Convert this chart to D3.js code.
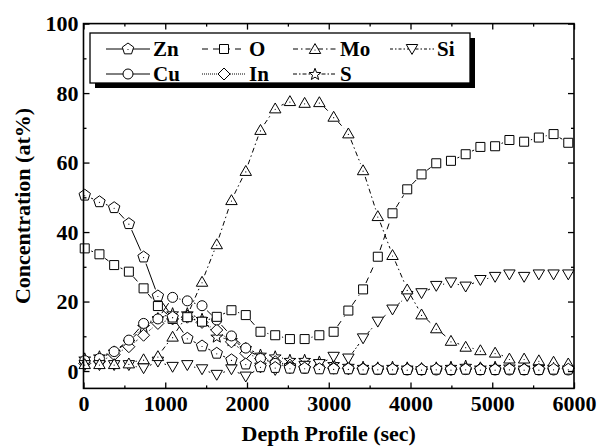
<!DOCTYPE html>
<html>
<head>
<meta charset="utf-8">
<title>Depth Profile</title>
<style>
body { margin: 0; background: #fff; }
svg text { font-family: "Liberation Serif", "Times New Roman", serif; font-weight: bold; }
</style>
<script src="https://d3js.org/d3.v7.min.js"></script>
</head>
<body>
<script>

// sputter time of each measurement (sec)
const times = [15, 195, 375, 555, 735, 910, 1090, 1270, 1450, 1630, 1810, 1985, 2165, 2345, 2525, 2705, 2885,
  3060, 3240, 3420, 3600, 3780, 3960, 4135, 4315, 4495, 4675, 4855, 5035, 5210, 5390, 5570, 5750, 5930];

const zn = [50.6, 48.7, 47.0, 42.4, 32.8, 21.6, 15.5, 9.4, 7.2, 5.1, 3.2, 2.0, 1.2, 1.0, 0.8, 0.8, 0.6,
  0.6, 0.6, 0.5, 0.5, 0.5, 0.4, 0.4, 0.5, 0.4, 0.5, 0.4, 0.4, 0.5, 0.4, 0.4, 0.5, 0.5];
const o = [35.3, 33.6, 30.5, 28.6, 23.8, 18.7, 15.0, 15.5, 14.2, 15.6, 17.5, 16.1, 11.3, 10.3, 9.2, 9.2, 10.3,
  11.3, 17.4, 23.5, 32.9, 45.4, 52.3, 56.6, 59.8, 60.5, 62.4, 64.5, 64.7, 66.5, 66.0, 67.2, 68.2, 65.7];
const mo = [2.0, 2.0, 2.0, 2.2, 3.4, 4.3, 9.9, 16.0, 25.7, 36.5, 49.2, 57.6, 69.4, 75.6, 77.7, 77.2, 77.4,
  73.2, 68.4, 57.8, 44.6, 33.4, 23.5, 16.3, 12.3, 8.7, 7.0, 6.0, 5.3, 3.6, 3.6, 3.1, 2.7, 2.2];
const si = [1.7, 1.7, 1.7, 1.7, 0.8, 2.7, 1.2, 1.7, 0.5, -1.1, 0.5, -1.6, 1.0, 0.3, 0.8, 1.5, 2.0,
  4.1, 3.6, 9.4, 14.2, 17.7, 21.6, 22.4, 24.5, 25.5, 24.3, 26.2, 27.1, 27.8, 27.1, 27.8, 27.8, 27.8];
const cu = [3.0, 3.6, 5.6, 8.9, 13.7, 15.0, 21.2, 20.2, 18.8, 14.7, 10.1, 6.6, 3.6, 2.2, 1.2, 0.8, 1.0,
  0.8, 0.6, 0.5, 0.4, 0.4, 0.3, 0.3, 0.3, 0.3, 0.4, 0.3, 0.3, 0.3, 0.3, 0.3, 0.3, 0.3];
const inn = [2.2, 2.7, 4.7, 7.0, 10.3, 13.7, 15.0, 15.5, 14.0, 11.8, 8.4, 5.1, 3.6, 2.7, 1.7, 1.2, 1.0,
  0.8, 0.7, 0.7, 0.6, 0.6, 0.6, 0.5, 0.6, 0.5, 0.6, 0.7, 0.6, 0.6, 0.6, 0.7, 0.6, 0.7];
const s = [3.6, 4.2, 5.6, 8.4, 12.7, 15.2, 16.6, 16.6, 15.0, 9.9, 8.9, 6.6, 4.7, 4.2, 3.2, 3.2, 2.7,
  2.0, 1.5, 1.2, 1.0, 1.2, 1.0, 0.8, 1.0, 1.2, 1.5, 1.0, 1.2, 1.3, 1.0, 1.2, 1.2, 1.0];

const xTicks = [0, 1000, 2000, 3000, 4000, 5000, 6000];
const yTicks = [0, 20, 40, 60, 80, 100];

// legend order: two rows of four / three
const series = [
  { name: "Zn", values: zn, shape: "pentagon", dash: null, col: 0, row: 0 },
  { name: "O", values: o, shape: "square", dash: "6,5", col: 1, row: 0 },
  { name: "Mo", values: mo, shape: "triangle", dash: "5,3,1.5,3", col: 2, row: 0 },
  { name: "Si", values: si, shape: "down", dash: "3,2,1.5,2", col: 3, row: 0 },
  { name: "Cu", values: cu, shape: "circle", dash: null, col: 0, row: 1 },
  { name: "In", values: inn, shape: "diamond", dash: "1,1", col: 1, row: 1 },
  { name: "S", values: s, shape: "star", dash: "4,2,1.5,2", col: 2, row: 1 }
];

const W = 597, H = 446;
const margin = { left: 83.5, right: 23, top: 23.6, bottom: 57.6 };

const svg = d3.select("body").append("svg")
  .attr("width", W).attr("height", H);

const x = d3.scaleLinear().domain([0, 6000]).range([margin.left, W - margin.right]);
const y = d3.scaleLinear().domain([-5, 100]).range([H - margin.bottom, margin.top]);

function polyPath(pts) {
  return "M" + pts.map(p => p[0].toFixed(2) + "," + p[1].toFixed(2)).join("L") + "Z";
}
function regular(n, r, rot) {
  let pts = [];
  for (let i = 0; i < n; i++) {
    let a = rot + i * 2 * Math.PI / n;
    pts.push([r * Math.sin(a), -r * Math.cos(a)]);
  }
  return pts;
}
function shapePath(shape) {
  switch (shape) {
    case "pentagon": return polyPath(regular(5, 6, 0));
    case "square": return "M-4.5,-4.5H4.5V4.5H-4.5Z";
    case "triangle": return polyPath(regular(3, 6.6, 0).map(p => [p[0], p[1] + 1.2]));
    case "down": return polyPath(regular(3, 6.6, Math.PI).map(p => [p[0], p[1] - 1.2]));
    case "diamond": return "M0,-6L6,0L0,6L-6,0Z";
    case "circle": return "M5,0A5,5 0 1,1 -5,0A5,5 0 1,1 5,0Z";
    case "star": {
      let pts = [];
      for (let i = 0; i < 10; i++) {
        let r = i % 2 ? 2.6 : 6.2, a = i * Math.PI / 5;
        pts.push([r * Math.sin(a), -r * Math.cos(a) + 0.5]);
      }
      return polyPath(pts);
    }
  }
}
function drawMarker(g, shape) {
  g.append("path").attr("d", shapePath(shape))
    .attr("fill", "#fff").attr("stroke", "#000").attr("stroke-width", 1);
  if (shape == "pentagon" || shape == "triangle") {
    g.append("circle").attr("r", 0.6).attr("cy", shape == "triangle" ? 1 : 0.5).attr("fill", "#000");
  }
}

// connecting lines leave a gap around every symbol
const GAP = 7;
function gappedSegments(values) {
  const pts = values.map((v, i) => [x(times[i]), y(v)]);
  const segs = [];
  for (let i = 1; i < pts.length; i++) {
    const [x0, y0] = pts[i - 1], [x1, y1] = pts[i];
    const len = Math.hypot(x1 - x0, y1 - y0);
    if (len <= 2 * GAP + 1) continue;
    const ux = (x1 - x0) / len, uy = (y1 - y0) / len;
    segs.push([[x0 + ux * GAP, y0 + uy * GAP], [x1 - ux * GAP, y1 - uy * GAP]]);
  }
  return segs;
}

const plot = svg.append("g");
const line = d3.line();

series.forEach(sr => {
  plot.selectAll(null).data(gappedSegments(sr.values)).enter().append("path")
    .attr("d", d => line(d))
    .attr("fill", "none")
    .attr("stroke", "#000")
    .attr("stroke-width", 1)
    .attr("stroke-dasharray", sr.dash);
});

// markers (drawn in reverse so Zn / O end up on top)
series.slice().reverse().forEach(sr => {
  plot.selectAll(null).data(sr.values).enter().append("g")
    .attr("transform", (d, i) => "translate(" + x(times[i]) + "," + y(d) + ")")
    .each(function() { drawMarker(d3.select(this), sr.shape); });
});

// axes, ticks pointing inwards on all four sides
const minorX = d3.range(0, 6001, 500).filter(v => v % 1000);
const minorY = d3.range(10, 100, 20);

function axisGroup(axis, tr) {
  const g = svg.append("g").attr("transform", tr).call(axis);
  g.select(".domain").remove();
  g.selectAll("line").attr("stroke", "#000").attr("stroke-width", 1.3);
  g.selectAll("text").attr("font-size", 22).attr("fill", "#000");
  return g;
}
const bottomY = H - margin.bottom, rightX = W - margin.right;

axisGroup(d3.axisBottom(x).tickValues(xTicks).tickSize(-6).tickPadding(7).tickFormat(d3.format("d")), "translate(0," + bottomY + ")");
axisGroup(d3.axisBottom(x).tickValues(minorX).tickSize(-3).tickFormat(""), "translate(0," + bottomY + ")");
axisGroup(d3.axisTop(x).tickValues(xTicks).tickSize(-6).tickFormat(""), "translate(0," + margin.top + ")");
axisGroup(d3.axisTop(x).tickValues(minorX).tickSize(-3).tickFormat(""), "translate(0," + margin.top + ")");
axisGroup(d3.axisLeft(y).tickValues(yTicks).tickSize(-6).tickPadding(5).tickFormat(d3.format("d")), "translate(" + margin.left + ",0)");
axisGroup(d3.axisLeft(y).tickValues(minorY).tickSize(-3).tickFormat(""), "translate(" + margin.left + ",0)");
axisGroup(d3.axisRight(y).tickValues(yTicks).tickSize(-6).tickFormat(""), "translate(" + rightX + ",0)");
axisGroup(d3.axisRight(y).tickValues(minorY).tickSize(-3).tickFormat(""), "translate(" + rightX + ",0)");

svg.append("rect")
  .attr("x", margin.left).attr("y", margin.top)
  .attr("width", rightX - margin.left).attr("height", bottomY - margin.top)
  .attr("fill", "none").attr("stroke", "#000").attr("stroke-width", 1.6);

// axis titles
svg.append("text")
  .attr("x", (margin.left + rightX) / 2).attr("y", 441)
  .attr("text-anchor", "middle").attr("font-size", 22)
  .text("Depth Profile (sec)");
svg.append("text")
  .attr("transform", "translate(30,206) rotate(-90)")
  .attr("text-anchor", "middle").attr("font-size", 22)
  .text("Concentration (at%)");

// legend with drop shadow
const lg = { x: 90, y: 33, w: 380, h: 50 };
svg.append("rect").attr("x", lg.x + 5).attr("y", lg.y + 5).attr("width", lg.w).attr("height", lg.h).attr("fill", "#000");
svg.append("rect").attr("x", lg.x).attr("y", lg.y).attr("width", lg.w).attr("height", lg.h)
  .attr("fill", "#fff").attr("stroke", "#000").attr("stroke-width", 1.3);

const colX = [106, 202, 293, 390];
const rowY = [49, 74];
series.forEach(sr => {
  const g = svg.append("g").attr("transform", "translate(" + colX[sr.col] + "," + rowY[sr.row] + ")");
  g.append("line").attr("x1", 0).attr("x2", 44).attr("stroke", "#000").attr("stroke-width", 1)
    .attr("stroke-dasharray", sr.dash);
  drawMarker(g.append("g").attr("transform", "translate(22,0)"), sr.shape);
  g.append("text").attr("x", 47).attr("y", 7).attr("font-size", 21).text(sr.name);
});

</script>
</body>
</html>
